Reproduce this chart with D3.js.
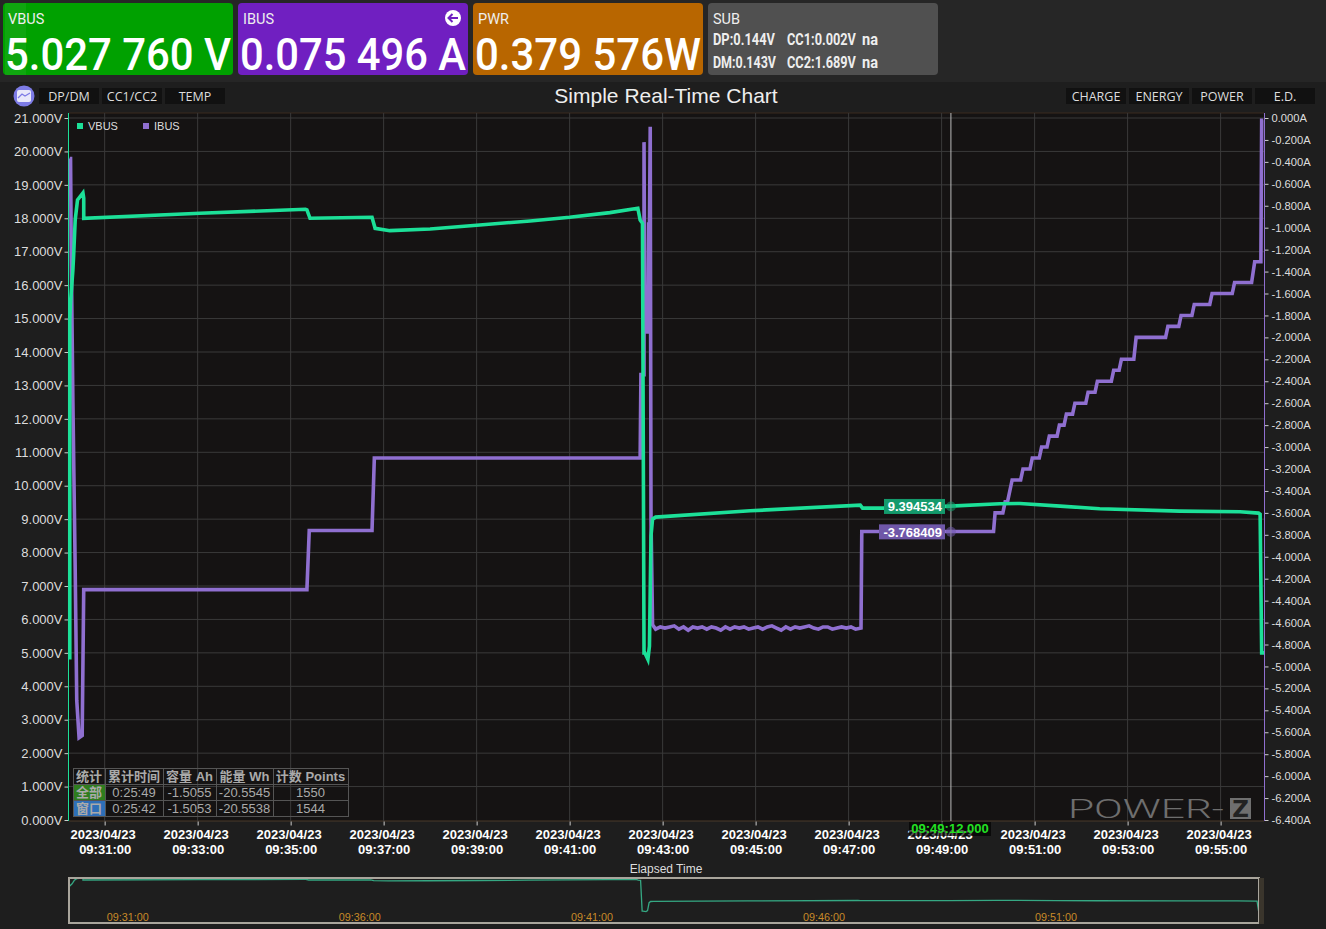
<!DOCTYPE html>
<html>
<head>
<meta charset="utf-8">
<title>Simple Real-Time Chart</title>
<script src="https://cdn.jsdelivr.net/npm/d3@7"></script>
<style>
  html, body { margin: 0; padding: 0; background: #1e1e1e; overflow: hidden; }
  svg { display: block; }
  text { font-family: "Liberation Sans", Arial, sans-serif; }
</style>
</head>
<body>
<svg id="chart" width="1326" height="929"></svg>
<script>
// times are minutes after 09:00 on 2023/04/23
const vbusTimes = [30.25, 30.26, 30.265, 30.28, 30.32, 30.34, 30.37, 30.43, 30.54, 30.55, 30.56,
  33.06, 35.32, 35.36, 35.42, 36.76, 36.82, 37.14, 38.0, 39.07, 40.15, 41.0, 41.87, 42.47, 42.52,
  42.57, 42.6, 42.63, 42.69, 42.73, 42.75, 42.79, 42.86, 44.89, 47.25, 47.31, 48.11, 49.19, 50.26,
  50.69, 51.55, 52.41, 54.13, 55.42, 55.83, 55.86, 55.89, 55.94];
const vbusValues = [4.8, 4.8, 15, 15.5, 16.45, 16.9, 17.95, 18.55, 18.76, 18.6, 18.0,
  18.15, 18.27, 18.25, 18.0, 18.03, 17.7, 17.63, 17.68, 17.8, 17.92, 18.03, 18.17, 18.3, 17.95,
  17.85, 5.0, 5.0, 4.8, 5.2, 8.5, 9.0, 9.06, 9.25, 9.42, 9.33, 9.33, 9.39, 9.46,
  9.47, 9.39, 9.31, 9.24, 9.22, 9.18, 9.15, 5.0, 5.0];

const ibusTimes = [30.26, 30.27, 30.29, 30.33, 30.37, 30.41, 30.45, 30.53, 30.55,
  35.36, 35.4, 36.76, 36.8, 42.52, 42.54, 42.6, 42.61, 42.63, 42.69, 42.7, 42.71, 42.74, 42.76, 42.79,
  42.85, 42.95, 43.05, 43.15, 43.25, 43.35, 43.45, 43.55, 43.65, 43.75, 43.85, 43.95, 44.05, 44.15, 44.25,
  44.35, 44.45, 44.55, 44.65, 44.75, 44.85, 44.95, 45.05, 45.15, 45.25, 45.35, 45.45, 45.55, 45.65, 45.75,
  45.85, 45.95, 46.05, 46.15, 46.25, 46.35, 46.45, 46.55, 46.65, 46.75, 46.85, 46.95, 47.05, 47.15, 47.27,
  47.29, 47.31, 50.13, 50.15, 50.33, 50.37, 50.43, 50.52, 50.71, 50.76, 50.91, 50.96, 51.1, 51.15, 51.27,
  51.32, 51.49, 51.54, 51.64, 51.69, 51.83, 51.88, 52.11, 52.16, 52.31, 52.36, 52.65, 52.7, 52.82, 52.87,
  53.14, 53.19, 53.83, 53.88, 54.11, 54.16, 54.39, 54.44, 54.78, 54.83, 55.25, 55.3, 55.68, 55.74, 55.87, 55.89, 55.92];
const ibusValues = [-0.37, -0.37, -1.31, -2.57, -4.12, -5.31, -5.65, -5.63, -4.3,
  -4.3, -3.76, -3.76, -3.1, -3.1, -2.34, -2.34, -0.22, -1.95, -1.95, -0.95, -1.95, -0.08, -3.66, -4.62,
  -4.66, -4.64, -4.65, -4.64, -4.63, -4.66, -4.64, -4.67, -4.64, -4.65, -4.64, -4.66, -4.64, -4.65, -4.67,
  -4.64, -4.66, -4.64, -4.65, -4.64, -4.66, -4.65, -4.64, -4.66, -4.64, -4.63, -4.65, -4.67, -4.64, -4.66,
  -4.64, -4.65, -4.64, -4.63, -4.65, -4.66, -4.64, -4.64, -4.66, -4.65, -4.64, -4.65, -4.64, -4.66, -4.65,
  -3.77, -3.77, -3.77, -3.6, -3.6, -3.5, -3.5, -3.3, -3.3, -3.2, -3.2, -3.1, -3.1, -3.0, -3.0,
  -2.9, -2.9, -2.8, -2.8, -2.7, -2.7, -2.6, -2.6, -2.5, -2.5, -2.4, -2.4, -2.3, -2.3, -2.2,
  -2.2, -2.0, -2.0, -1.9, -1.9, -1.8, -1.8, -1.7, -1.7, -1.6, -1.6, -1.5, -1.5, -1.31, -1.31, -0.02, -0.02];

const voltTicks = d3.range(0, 22);
const ampTicks = d3.range(0, 33).map(i => -i * 0.2);
const timeTicks = d3.range(31, 56, 2);
const overviewTicks = [31, 36, 41, 46, 51];

const cursorTime = 49.2;
const cursorLabel = '09:49:12.000';
const cursorVolt = 9.394534;
const cursorAmp = -3.768409;

const tableHead = ['统计', '累计时间', '容量 Ah', '能量 Wh', '计数 Points'];
const tableAll = ['全部', '0:25:49', '-1.5055', '-20.5545', '1550'];
const tableWin = ['窗口', '0:25:42', '-1.5053', '-20.5538', '1544'];

const leftButtons = ['DP/DM', 'CC1/CC2', 'TEMP'];
const rightButtons = ['CHARGE', 'ENERGY', 'POWER', 'E.D.'];

const green = '#1ce098';
const purple = '#8f6fd0';

const minuteToDate = m => new Date(2023, 3, 23, 9, 0, m * 60);

const svg = d3.select('#chart');

// top bar
svg.append('rect').attr('width', 1326).attr('height', 82).attr('fill', '#262626');
svg.append('rect').attr('y', 82).attr('width', 1326).attr('height', 847).attr('fill', '#1e1e1e');

function tile(x, w, color, label, value) {
  svg.append('rect').attr('x', x).attr('y', 3).attr('width', w).attr('height', 72)
    .attr('rx', 4).attr('fill', color);
  svg.append('text').attr('x', x + 5).attr('y', 23.5).attr('fill', '#eee')
    .style('font-family', 'Roboto').style('font-size', '14.5px').text(label);
  if (value) {
    svg.append('text').attr('x', x + 2).attr('y', 70).attr('fill', '#fff')
      .attr('textLength', w - 4).attr('lengthAdjust', 'spacingAndGlyphs')
      .style('font-family', 'Roboto').style('font-weight', 500).style('font-size', '45px').text(value);
  }
}
tile(3, 230, '#00a100', 'VBUS', '5.027 760 V');
svg.append('rect').attr('x', 5).attr('y', 3).attr('width', 21).attr('height', 72).attr('fill', '#fff').attr('opacity', 0.06);
tile(238, 230, '#701fc1', 'IBUS', '0.075 496 A');
tile(473, 230, '#b86600', 'PWR', '0.379 576W');
tile(708, 230, '#505050', 'SUB', null);

svg.append('circle').attr('cx', 453).attr('cy', 18).attr('r', 8).attr('fill', '#fff');
svg.append('path').attr('d', 'M458 18H449M452.5 14L448.5 18L452.5 22')
  .attr('fill', 'none').attr('stroke', '#701fc1').attr('stroke-width', 2);

// narrow bold text: squeeze it on x so the drawn box is the real one
function subText(x, y, w, s) {
  const t = svg.append('text').attr('fill', '#eee')
    .style('font-family', 'Roboto').style('font-weight', 700).style('font-size', '16px').text(s);
  const k = w / t.node().getComputedTextLength();
  t.attr('transform', `translate(${x},${y}) scale(${k},1)`);
}
subText(713, 45, 62, 'DP:0.144V');
subText(787, 45, 69, 'CC1:0.002V');
subText(862, 45, 16, 'na');
subText(713, 67.5, 63, 'DM:0.143V');
subText(787, 67.5, 69, 'CC2:1.689V');
subText(862, 67.5, 16, 'na');

// header row of the chart
svg.append('circle').attr('cx', 24).attr('cy', 96).attr('r', 10.5).attr('fill', '#7d7be6');
svg.append('rect').attr('x', 17).attr('y', 90).attr('width', 14).attr('height', 12).attr('rx', 2).attr('fill', '#e8e8fa');
svg.append('path').attr('d', 'M18 98L22 94L25 96L30 93').attr('fill', 'none').attr('stroke', '#7d7be6').attr('stroke-width', 1.3);

function button(x, s) {
  svg.append('rect').attr('x', x).attr('y', 88).attr('width', 60).attr('height', 16).attr('fill', '#111');
  svg.append('text').attr('x', x + 30).attr('y', 101).attr('text-anchor', 'middle').attr('fill', '#ddd')
    .style('font-family', '"Open Sans"').style('font-size', '12.5px').text(s);
}
leftButtons.forEach((s, i) => button(39 + i * 63, s));
rightButtons.forEach((s, i) => button(1066 + i * 63, s));

svg.append('text').attr('x', 666).attr('y', 103).attr('text-anchor', 'middle').attr('fill', '#eee')
  .style('font-size', '21px').text('Simple Real-Time Chart');

// scales
const x = d3.scaleTime()
  .domain([minuteToDate(30.24), minuteToDate(55.94)])
  .range([69, 1264]);
const yVolt = d3.scaleLinear().domain([0, 21]).range([820, 118]);
const yAmp = d3.scaleLinear().domain([-6.4, 0]).range([820, 118]);

// plot area
svg.append('rect').attr('x', 69).attr('y', 113).attr('width', 1195).attr('height', 708).attr('fill', '#151313');
svg.append('line').attr('x1', 69).attr('x2', 1264).attr('y1', 113).attr('y2', 113).attr('stroke', '#3a2a1e');
svg.append('line').attr('x1', 69).attr('x2', 1264).attr('y1', 821).attr('y2', 821).attr('stroke', '#4a3a2a');

// grid
svg.append('g').selectAll('line').data(timeTicks).enter().append('line')
  .attr('x1', d => x(minuteToDate(d))).attr('x2', d => x(minuteToDate(d)))
  .attr('y1', 113).attr('y2', 821).attr('stroke', '#3a3a3a');
svg.append('g').selectAll('line').data(voltTicks.slice(1)).enter().append('line')
  .attr('x1', 69).attr('x2', 1264)
  .attr('y1', d => yVolt(d)).attr('y2', d => yVolt(d)).attr('stroke', '#3a3a3a');

// axes
const voltAxis = svg.append('g').attr('transform', 'translate(68.5,0)')
  .call(d3.axisLeft(yVolt).tickValues(voltTicks).tickSize(4).tickPadding(2)
    .tickFormat(d => d.toFixed(3) + 'V'));
voltAxis.select('.domain').remove();
voltAxis.selectAll('text').attr('fill', '#ddd').style('font-size', '13px').style('font-family', '"Liberation Sans"');
voltAxis.selectAll('line').attr('stroke', '#ccc');
svg.append('line').attr('x1', 68.5).attr('x2', 68.5).attr('y1', 113).attr('y2', 821).attr('stroke', green);

const ampAxis = svg.append('g').attr('transform', 'translate(1264.5,0)')
  .call(d3.axisRight(yAmp).tickValues(ampTicks).tickSize(4).tickPadding(3)
    .tickFormat(d => (Math.abs(d) < 1e-9 ? 0 : d).toFixed(3) + 'A'));
ampAxis.select('.domain').remove();
ampAxis.selectAll('text').attr('fill', '#ddd').style('font-size', '11.2px').style('font-family', '"Liberation Sans"');
ampAxis.selectAll('line').attr('stroke', '#ccc');
svg.append('line').attr('x1', 1264.5).attr('x2', 1264.5).attr('y1', 113).attr('y2', 821).attr('stroke', purple);

const fmtDay = d3.timeFormat('%Y/%m/%d');
const fmtTime = d3.timeFormat('%H:%M:%S');
const timeAxis = svg.append('g').attr('transform', 'translate(0,821.5)')
  .call(d3.axisBottom(x).tickValues(timeTicks.map(minuteToDate)).tickSize(4).tickFormat(''));
timeAxis.select('.domain').remove();
timeAxis.selectAll('line').attr('stroke', '#ccc');
timeAxis.selectAll('.tick').append('text')
  .attr('x', -2).attr('y', 17.5).attr('fill', '#fff').attr('text-anchor', 'middle')
  .style('font-size', '13px').style('font-weight', 700).style('font-family', '"Liberation Sans"')
  .text(d => fmtDay(d));
timeAxis.selectAll('.tick').append('text')
  .attr('y', 32.5).attr('fill', '#fff').attr('text-anchor', 'middle')
  .style('font-size', '13px').style('font-weight', 700).style('font-family', '"Liberation Sans"')
  .text(d => fmtTime(d));

svg.append('text').attr('x', 666).attr('y', 873).attr('text-anchor', 'middle').attr('fill', '#ddd')
  .style('font-size', '12px').text('Elapsed Time');

// watermark
svg.append('text').attr('x', 1068).attr('y', 817.5).attr('fill', '#6e6e6e')
  .attr('textLength', 156).attr('lengthAdjust', 'spacingAndGlyphs')
  .style('font-family', 'Roboto').style('font-weight', 300).style('font-size', '25px').text('POWER-');
svg.append('rect').attr('x', 1230).attr('y', 798).attr('width', 21).attr('height', 21).attr('fill', '#6f6f6f');
svg.append('text').attr('x', 1240.5).attr('y', 816.5).attr('text-anchor', 'middle').attr('fill', '#222')
  .style('font-family', '"DejaVu Sans"').style('font-weight', 700).style('font-size', '23px').text('Z');

// series
const ibusLine = d3.line().x((d, i) => x(minuteToDate(ibusTimes[i]))).y(d => yAmp(d));
const vbusLine = d3.line().x((d, i) => x(minuteToDate(vbusTimes[i]))).y(d => yVolt(d));
svg.append('path').datum(ibusValues).attr('d', ibusLine)
  .attr('fill', 'none').attr('stroke', purple).attr('stroke-width', 3.6);
svg.append('path').datum(vbusValues).attr('d', vbusLine)
  .attr('fill', 'none').attr('stroke', green).attr('stroke-width', 3.6);

// legend
svg.append('rect').attr('x', 77).attr('y', 123).attr('width', 6).attr('height', 6).attr('fill', green);
svg.append('text').attr('x', 88).attr('y', 130).attr('fill', '#ddd').style('font-size', '11px').text('VBUS');
svg.append('rect').attr('x', 143).attr('y', 123).attr('width', 6).attr('height', 6).attr('fill', purple);
svg.append('text').attr('x', 154).attr('y', 130).attr('fill', '#ddd').style('font-size', '11px').text('IBUS');

// cursor
const cx = x(minuteToDate(cursorTime));
svg.append('line').attr('x1', cx).attr('x2', cx).attr('y1', 113).attr('y2', 821).attr('stroke', '#bbb');

function marker(y, w, color, value) {
  svg.append('circle').attr('cx', cx).attr('cy', y).attr('r', 5).attr('fill', color).attr('opacity', 0.55);
  svg.append('rect').attr('x', 945 - w).attr('y', y - 7.5).attr('width', w).attr('height', 15).attr('fill', color);
  svg.append('text').attr('x', 942).attr('y', y + 5).attr('text-anchor', 'end').attr('fill', '#fff')
    .style('font-size', '13px').style('font-weight', 700).text(value.toFixed(6));
}
marker(yVolt(cursorVolt) + 0.5, 61, '#149a6c', cursorVolt);
marker(yAmp(cursorAmp) + 0.5, 66, '#6f57a8', cursorAmp);

svg.append('rect').attr('x', 909).attr('y', 822).attr('width', 82).attr('height', 14).attr('fill', '#000').attr('opacity', 0.65);
svg.append('text').attr('x', 950).attr('y', 833).attr('text-anchor', 'middle').attr('fill', '#22e022')
  .style('font-size', '13px').style('font-weight', 700).text(cursorLabel);

// stats table
const colEdges = [73, 105, 163, 216, 273, 348];
const rowEdges = [768, 784, 800, 816];
[tableHead, tableAll, tableWin].forEach((row, r) => {
  row.forEach((s, c) => {
    const g = svg.append('g');
    if (c === 0 && r > 0) {
      g.append('rect').attr('x', colEdges[0]).attr('y', rowEdges[r])
        .attr('width', colEdges[1] - colEdges[0]).attr('height', 16)
        .attr('fill', r === 1 ? '#2f7d1f' : '#2e6fb8');
    }
    g.append('rect').attr('x', colEdges[c] + 0.5).attr('y', rowEdges[r] + 0.5)
      .attr('width', colEdges[c + 1] - colEdges[c]).attr('height', 16)
      .attr('fill', 'none').attr('stroke', '#555');
    g.append('text').attr('x', (colEdges[c] + colEdges[c + 1]) / 2).attr('y', rowEdges[r] + 13)
      .attr('text-anchor', 'middle').attr('fill', '#aaa')
      .style('font-family', r === 0 || c === 0 ? '"Liberation Sans", "Noto Sans CJK SC"' : '"Liberation Sans"')
      .style('font-weight', r === 0 || c === 0 ? 700 : 400)
      .style('font-size', '13px').text(s);
  });
});

// overview strip
const xo = d3.scaleTime().domain([minuteToDate(30.25), minuteToDate(56)]).range([69, 1264]);
const yo = d3.scaleLinear().domain([0, 18]).range([923, 880]);
svg.append('path').datum(vbusValues).attr('d', d3.line()
    .x((d, i) => xo(minuteToDate(vbusTimes[i]))).y(d => yo(d)))
  .attr('fill', 'none').attr('stroke', '#35a883').attr('stroke-width', 1.3);
svg.append('rect').attr('x', 69).attr('y', 878).attr('width', 1190).attr('height', 45)
  .attr('fill', 'none').attr('stroke', '#a9a59c').attr('stroke-width', 2);
svg.append('rect').attr('x', 1259).attr('y', 878).attr('width', 5).attr('height', 46).attr('fill', '#3a352c');
svg.append('g').selectAll('text').data(overviewTicks).enter().append('text')
  .attr('x', d => xo(minuteToDate(d)) + 3).attr('y', 921).attr('fill', '#c88a28')
  .style('font-size', '10.8px').text(d => fmtTime(minuteToDate(d)));
</script>
</body>
</html>
